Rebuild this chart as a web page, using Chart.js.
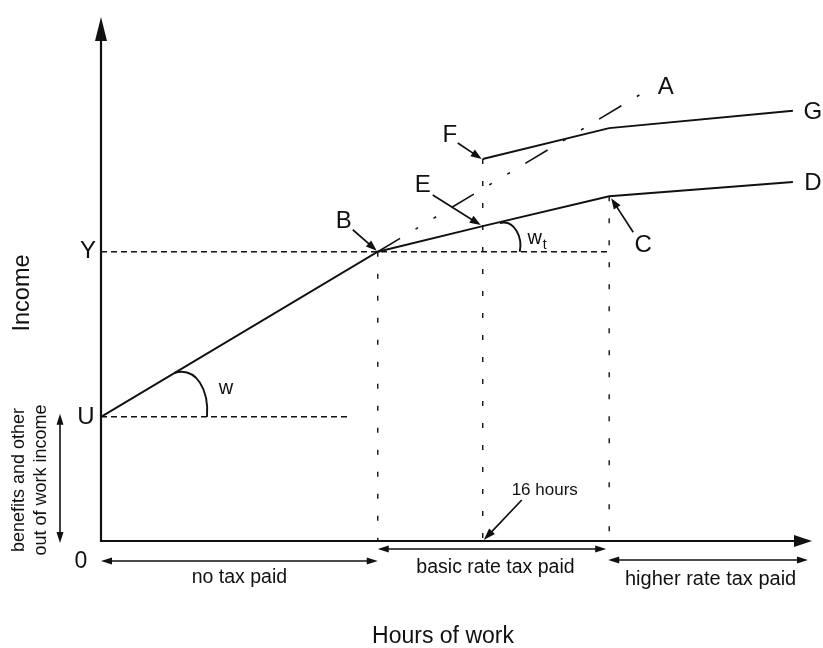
<!DOCTYPE html>
<html><head><meta charset="utf-8">
<script src="https://cdn.jsdelivr.net/npm/chart.js@4/dist/chart.umd.min.js"></script>
<style>html,body{margin:0;padding:0;background:#fff}canvas{display:block}</style>
</head><body>
<canvas id="c" width="823" height="648"></canvas>
<script>
// ---- data (hours of work vs income, schematic units) ----
const budgetHours   = [0, 11.6, 16, 21.3, 29];        // U, B, E, C, D
const budgetIncome  = [23.7, 55.2, 60.1, 65.8, 68.5];
const creditHours   = [16, 21.3, 29];                 // F, kink, G
const creditIncome  = [72.9, 78.8, 82.1];
const noTaxHours    = [11.6, 23];                     // B -> A
const noTaxIncome   = [55.2, 86.3];
const outOfWorkIncome = 23.7;   // U
const thresholdIncome = 55.2;   // Y
const uGuideEndHours  = 10.4;
const sixteenHours    = 16;
const axisMaxHours    = 29.8;
const axisMaxIncome   = 100;
const bandLabels = ['no tax paid', 'basic rate tax paid', 'higher rate tax paid'];

const INK = '#111';
const FONT = '"Liberation Sans", Arial, Helvetica, sans-serif';

function pts(xs, ys){ return xs.map((x,i)=>({x:x, y:ys[i]})); }
function ds(data, dash, width){
  return {data:data, showLine:true, borderColor:INK, borderWidth:width||1.9,
          borderDash:dash||[], pointRadius:0, fill:false, clip:false, tension:0};
}

const datasets = [
  ds(pts(budgetHours, budgetIncome)),
  ds(pts(creditHours, creditIncome)),
  ds(pts(noTaxHours, noTaxIncome), [26,18,3,18,3,18], 1.6),
  ds([{x:0,y:thresholdIncome},{x:budgetHours[3],y:thresholdIncome}], [6,4], 1.5),
  ds([{x:0,y:outOfWorkIncome},{x:uGuideEndHours,y:outOfWorkIncome}], [6,4], 1.5),
  ds([{x:budgetHours[1],y:budgetIncome[1]},{x:budgetHours[1],y:0}], [5,17], 1.4),
  ds([{x:creditHours[0],y:creditIncome[0]},{x:creditHours[0],y:0}], [5,17], 1.4),
  ds([{x:budgetHours[3],y:budgetIncome[3]},{x:budgetHours[3],y:0}], [5,17], 1.4)
];

function head(ctx,x1,y1,x2,y2,len,half){
  const a=Math.atan2(y2-y1,x2-x1);
  const bx=x2-len*Math.cos(a), by=y2-len*Math.sin(a);
  ctx.beginPath();
  ctx.moveTo(x2,y2);
  ctx.lineTo(bx+half*Math.sin(a), by-half*Math.cos(a));
  ctx.lineTo(bx-half*Math.sin(a), by+half*Math.cos(a));
  ctx.closePath(); ctx.fill();
}
function seg(ctx,x1,y1,x2,y2){ctx.beginPath();ctx.moveTo(x1,y1);ctx.lineTo(x2,y2);ctx.stroke();}
function arrow(ctx,x1,y1,x2,y2,len,half){
  const a=Math.atan2(y2-y1,x2-x1);
  seg(ctx,x1,y1,x2-len*0.8*Math.cos(a),y2-len*0.8*Math.sin(a));
  head(ctx,x1,y1,x2,y2,len,half);
}
function dbl(ctx,x1,y1,x2,y2,len,half){
  const a=Math.atan2(y2-y1,x2-x1);
  seg(ctx,x1+len*0.8*Math.cos(a),y1+len*0.8*Math.sin(a),x2-len*0.8*Math.cos(a),y2-len*0.8*Math.sin(a));
  head(ctx,x1,y1,x2,y2,len,half); head(ctx,x2,y2,x1,y1,len,half);
}
function txt(ctx,s,x,y,size,align){
  ctx.font=size+'px '+FONT; ctx.textAlign=align||'center'; ctx.textBaseline='middle';
  ctx.fillText(s,x,y);
}

const decor = {
  id:'decor',
  afterDatasetsDraw(chart){
    const ctx=chart.ctx, xs=chart.scales.x, ys=chart.scales.y, ca=chart.chartArea;
    const px=v=>xs.getPixelForValue(v), py=v=>ys.getPixelForValue(v);
    ctx.save();
    ctx.strokeStyle=INK; ctx.fillStyle=INK; ctx.setLineDash([]); ctx.lineCap='butt';
    const x0=ca.left, yb=ca.bottom;
    // axes
    ctx.lineWidth=2.2;
    seg(ctx,x0,yb+1,x0,ca.top+20); head(ctx,x0,yb,x0,ca.top,24,6);
    seg(ctx,x0-1,yb,ca.right-16,yb); head(ctx,x0,yb,ca.right,yb,18,6);
    // points
    const U={x:px(budgetHours[0]),y:py(budgetIncome[0])};
    const B={x:px(budgetHours[1]),y:py(budgetIncome[1])};
    const E={x:px(budgetHours[2]),y:py(budgetIncome[2])};
    const C={x:px(budgetHours[3]),y:py(budgetIncome[3])};
    const D={x:px(budgetHours[4]),y:py(budgetIncome[4])};
    const F={x:px(creditHours[0]),y:py(creditIncome[0])};
    const G={x:px(creditHours[2]),y:py(creditIncome[2])};
    const A={x:px(noTaxHours[1]),y:py(noTaxIncome[1])};
    // angle arcs
    ctx.lineWidth=1.9;
    let dx=B.x-U.x, dy=B.y-U.y, L=Math.hypot(dx,dy); dx/=L; dy/=L;
    ctx.beginPath();
    ctx.moveTo(U.x+86*dx, U.y+86*dy);
    ctx.bezierCurveTo(U.x+96,U.y-50, U.x+108,U.y-26, U.x+106,U.y);
    ctx.stroke();
    ctx.beginPath();
    ctx.moveTo(E.x+17, E.y-3);
    ctx.bezierCurveTo(E.x+32,E.y-7, E.x+40,E.y+12, E.x+37,B.y);
    ctx.stroke();
    // pointer arrows
    ctx.lineWidth=1.7;
    arrow(ctx,B.x-25,B.y-22,B.x-1,B.y-1,11,4);
    arrow(ctx,E.x-50,E.y-31,E.x-2,E.y-1,11,4);
    arrow(ctx,F.x-25,F.y-16,F.x-1,F.y,11,4);
    arrow(ctx,C.x+24,C.y+36,C.x+2,C.y+2,11,4);
    const s16=px(sixteenHours);
    arrow(ctx,s16+39,yb-41,s16+1,yb-1,12,4);
    // band double arrows
    ctx.lineWidth=1.6;
    dbl(ctx,x0,yb+20,B.x,yb+20,11,3.5);
    dbl(ctx,B.x,yb+8,C.x-3,yb+8,11,3.5);
    dbl(ctx,C.x-1,yb+19,ca.right-4,yb+19,11,3.5);
    dbl(ctx,60,U.y-3,60,yb+2,11,3.5);
    // labels
    ctx.fillStyle=INK;
    txt(ctx,'Y',x0-13,B.y,24);
    txt(ctx,'U',x0-15,U.y+1,24);
    txt(ctx,'0',x0-20,yb+21,23);
    txt(ctx,'B',B.x-34,B.y-30,24);
    txt(ctx,'E',E.x-60,E.y-41,24);
    txt(ctx,'F',F.x-33,F.y-24,24);
    txt(ctx,'C',C.x+34,C.y+49,24);
    txt(ctx,'A',A.x+16,A.y-1,24);
    txt(ctx,'G',G.x+20,G.y+2,24);
    txt(ctx,'D',D.x+20,D.y+1,24);
    txt(ctx,'w',U.x+125,U.y-28,20);
    txt(ctx,'w',E.x+52,E.y+12,20);
    txt(ctx,'t',E.x+62,E.y+19,14);
    txt(ctx,bandLabels[0],(x0+B.x)/2,yb+37,19.5);
    txt(ctx,bandLabels[1],(B.x+C.x)/2+2,yb+27,19.5);
    txt(ctx,bandLabels[2],(C.x+ca.right)/2,yb+38,20);
    txt(ctx,'16 hours',s16+62,yb-51,17);
    txt(ctx,'Hours of work',443,637,23);
    ctx.save(); ctx.translate(23,293); ctx.rotate(-Math.PI/2); txt(ctx,'Income',0,0,23.5); ctx.restore();
    ctx.save(); ctx.translate(30,480); ctx.rotate(-Math.PI/2);
    txt(ctx,'benefits and other',0,-11,18); txt(ctx,'out of work income',0,11,18); ctx.restore();
    ctx.restore();
  }
};

new Chart(document.getElementById('c'), {
  type:'scatter',
  data:{datasets:datasets},
  options:{
    responsive:false, animation:false, events:[],
    layout:{padding:{left:101,right:11,top:17,bottom:107}},
    plugins:{legend:{display:false},tooltip:{enabled:false}},
    scales:{
      x:{type:'linear',min:0,max:axisMaxHours,display:false},
      y:{type:'linear',min:0,max:axisMaxIncome,display:false}
    }
  },
  plugins:[decor]
});
</script>
</body></html>
